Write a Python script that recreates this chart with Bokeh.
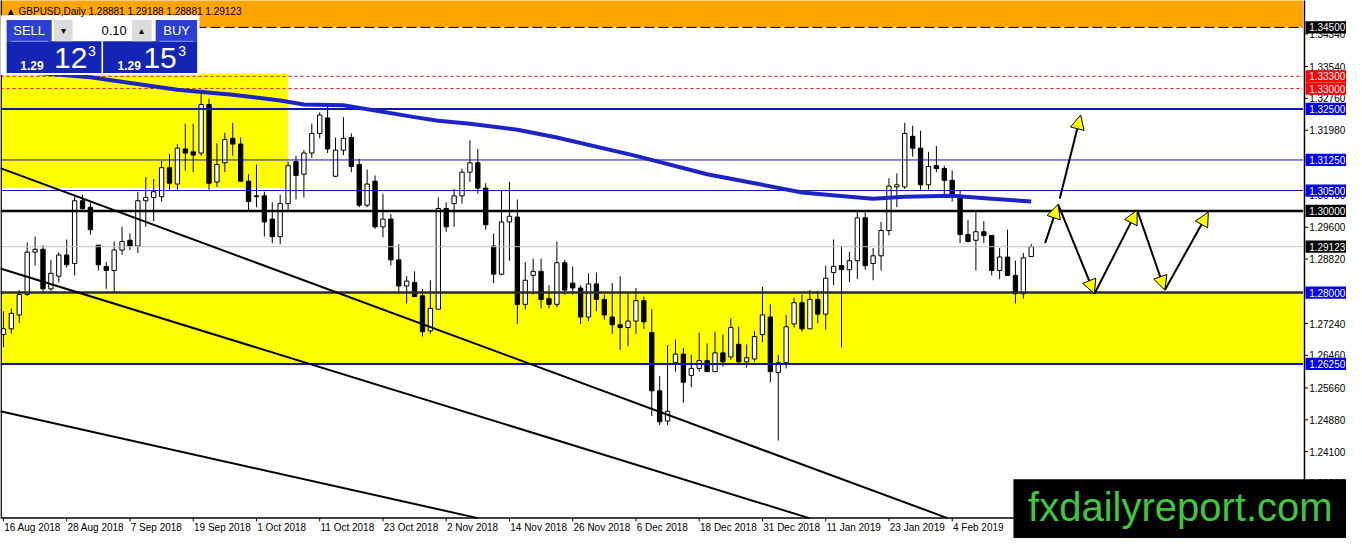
from bokeh.plotting import figure
from bokeh.models import ColumnDataSource, Range1d, Label, Arrow, NormalHead
from bokeh.core.properties import value
from bokeh.embed import file_html
from bokeh.resources import INLINE

# GBPUSD daily candles, bar 0 = 16 Aug 2018 (weekdays only)
OPEN = [1.2697, 1.2711, 1.2745, 1.2795, 1.2899, 1.2906, 1.2809, 1.2840, 1.2892, 1.2871,
        1.3025, 1.3009, 1.2916, 1.2864, 1.2854, 1.2904, 1.2928, 1.2914, 1.3025, 1.3033,
        1.3035, 1.3106, 1.3066, 1.3152, 1.3145, 1.3142, 1.3261, 1.3071, 1.3118, 1.3178,
        1.3164, 1.3073, 1.3037, 1.3037, 1.2980, 1.2937, 1.3018, 1.3121, 1.3090, 1.3142,
        1.3190, 1.3228, 1.3085, 1.3149, 1.3180, 1.3114, 1.3014, 1.3073, 1.2961, 1.2980,
        1.2880, 1.2816, 1.2825, 1.2792, 1.2706, 1.2759, 1.3006, 1.3018, 1.3037, 1.3095,
        1.3118, 1.3056, 1.2914, 1.2845, 1.2973, 1.2985, 1.2771, 1.2842, 1.2852, 1.2785,
        1.2771, 1.2873, 1.2823, 1.2811, 1.2740, 1.2821, 1.2783, 1.2740, 1.2721, 1.2714,
        1.2730, 1.2780, 1.2702, 1.2559, 1.2485, 1.2628, 1.2649, 1.2597, 1.2614, 1.2633,
        1.2606, 1.2652, 1.2642, 1.2673, 1.2630, 1.2637, 1.2697, 1.2740, 1.2604, 1.2628,
        1.2723, 1.2775, 1.2711, 1.2783, 1.2747, 1.2849, 1.2866, 1.2856, 1.2878, 1.2983,
        1.2871, 1.2890, 1.2952, 1.3059, 1.3059, 1.3183, 1.3154, 1.3064, 1.3111, 1.3104,
        1.3075, 1.3033, 1.2942, 1.2928, 1.2949, 1.2940, 1.2854, 1.2887, 1.2842, 1.2797,
        1.28881]
HIGH = [1.2754, 1.2761, 1.2806, 1.2923, 1.2937, 1.2916, 1.2880, 1.2899, 1.2930, 1.3035,
        1.3040, 1.3021, 1.2916, 1.2875, 1.2925, 1.2961, 1.2945, 1.3047, 1.3083, 1.3078,
        1.3123, 1.3140, 1.3164, 1.3214, 1.3214, 1.3295, 1.3275, 1.3166, 1.3192, 1.3216,
        1.3180, 1.3090, 1.3114, 1.3047, 1.3021, 1.3040, 1.3121, 1.3135, 1.3149, 1.3214,
        1.3242, 1.3256, 1.3180, 1.3230, 1.3190, 1.3128, 1.3102, 1.3087, 1.3042, 1.2992,
        1.2918, 1.2840, 1.2852, 1.2809, 1.2830, 1.3033, 1.3021, 1.3054, 1.3104, 1.3173,
        1.3152, 1.3068, 1.2945, 1.3049, 1.3071, 1.3028, 1.2875, 1.2883, 1.2883, 1.2818,
        1.2925, 1.2880, 1.2864, 1.2818, 1.2847, 1.2849, 1.2795, 1.2823, 1.2840, 1.2797,
        1.2811, 1.2790, 1.2759, 1.2595, 1.2671, 1.2685, 1.2664, 1.2647, 1.2702, 1.2675,
        1.2704, 1.2697, 1.2737, 1.2716, 1.2673, 1.2706, 1.2814, 1.2771, 1.2647, 1.2745,
        1.2787, 1.2795, 1.2806, 1.2804, 1.2866, 1.2930, 1.2914, 1.2899, 1.2999, 1.2997,
        1.2909, 1.2973, 1.3080, 1.3092, 1.3216, 1.3209, 1.3197, 1.3145, 1.3159, 1.3111,
        1.3099, 1.3049, 1.2978, 1.2997, 1.2975, 1.2940, 1.2909, 1.2954, 1.2878, 1.2897,
        1.29188]
LOW = [1.2666, 1.2699, 1.2725, 1.2792, 1.2866, 1.2802, 1.2802, 1.2825, 1.2861, 1.2842,
       1.2999, 1.2942, 1.2854, 1.2809, 1.2802, 1.2892, 1.2904, 1.2897, 1.2961, 1.2975,
       1.3023, 1.3052, 1.3052, 1.3099, 1.3095, 1.3135, 1.3052, 1.3059, 1.3095, 1.3135,
       1.3071, 1.2999, 1.3009, 1.2937, 1.2921, 1.2918, 1.3002, 1.3028, 1.3033, 1.3130,
       1.3178, 1.3142, 1.3083, 1.3137, 1.3095, 1.3009, 1.3009, 1.2956, 1.2935, 1.2866,
       1.2797, 1.2773, 1.2790, 1.2692, 1.2699, 1.2759, 1.2949, 1.2961, 1.3018, 1.3071,
       1.3042, 1.2954, 1.2823, 1.2842, 1.2878, 1.2723, 1.2759, 1.2795, 1.2761, 1.2761,
       1.2764, 1.2795, 1.2795, 1.2723, 1.2730, 1.2754, 1.2733, 1.2699, 1.2659, 1.2668,
       1.2699, 1.2711, 1.2497, 1.2475, 1.2475, 1.2606, 1.2530, 1.2568, 1.2606, 1.2606,
       1.2606, 1.2618, 1.2635, 1.2628, 1.2616, 1.2630, 1.2678, 1.2580, 1.2437, 1.2614,
       1.2714, 1.2704, 1.2711, 1.2725, 1.2709, 1.2818, 1.2666, 1.2825, 1.2833, 1.2856,
       1.2830, 1.2854, 1.2940, 1.3009, 1.3054, 1.3133, 1.3052, 1.3052, 1.3095, 1.3040,
       1.3023, 1.2921, 1.2923, 1.2854, 1.2921, 1.2842, 1.2833, 1.2842, 1.2773, 1.2785,
       1.28881]
CLOSE = [1.2711, 1.2749, 1.2795, 1.2899, 1.2906, 1.2809, 1.2847, 1.2892, 1.2868, 1.3025,
         1.3006, 1.2954, 1.2868, 1.2854, 1.2904, 1.2925, 1.2914, 1.3025, 1.3033, 1.3047,
         1.3106, 1.3068, 1.3154, 1.3142, 1.3137, 1.3261, 1.3068, 1.3114, 1.3175, 1.3164,
         1.3073, 1.3023, 1.3035, 1.2973, 1.2937, 1.3018, 1.3111, 1.3087, 1.3142, 1.3190,
         1.3235, 1.3152, 1.3149, 1.3178, 1.3109, 1.3014, 1.3066, 1.2961, 1.2980, 1.2880,
         1.2816, 1.2828, 1.2790, 1.2704, 1.2761, 1.3006, 1.2961, 1.3037, 1.3095, 1.3118,
         1.3056, 1.2966, 1.2845, 1.2973, 1.2987, 1.2771, 1.2830, 1.2852, 1.2783, 1.2771,
         1.2873, 1.2806, 1.2811, 1.2740, 1.2821, 1.2783, 1.2745, 1.2721, 1.2714, 1.2730,
         1.2780, 1.2728, 1.2559, 1.2483, 1.2509, 1.2649, 1.2580, 1.2614, 1.2633, 1.2606,
         1.2652, 1.2630, 1.2714, 1.2630, 1.2640, 1.2692, 1.2745, 1.2606, 1.2628, 1.2716,
         1.2775, 1.2711, 1.2783, 1.2747, 1.2835, 1.2864, 1.2856, 1.2878, 1.2983, 1.2866,
         1.2890, 1.2952, 1.3061, 1.3064, 1.3190, 1.3154, 1.3064, 1.3109, 1.3104, 1.3075,
         1.3037, 1.2942, 1.2925, 1.2949, 1.2940, 1.2854, 1.2887, 1.2842, 1.2797, 1.2885,
         1.29123]

# moving average read at some bars
MA_BAR = [0, 11, 22, 29, 35, 38, 43, 52, 55, 59, 65, 70, 80, 89, 95, 101, 107, 110, 114, 120, 125, 130]
MA_VAL = [1.3345, 1.3328, 1.3297, 1.3285, 1.3271, 1.3261, 1.3259, 1.3230, 1.3221, 1.3214, 1.3199,
          1.3180, 1.3135, 1.3090, 1.3068, 1.3045, 1.3035, 1.3030, 1.3035, 1.3037, 1.3030, 1.3023]

# date axis
DATE_BAR = [0, 8, 16, 24, 32, 40, 48, 56, 64, 72, 80, 88, 96, 104, 112, 120]
DATE_TEXT = ["16 Aug 2018", "28 Aug 2018", "7 Sep 2018", "19 Sep 2018", "1 Oct 2018",
             "11 Oct 2018", "23 Oct 2018", "2 Nov 2018", "14 Nov 2018", "26 Nov 2018",
             "6 Dec 2018", "18 Dec 2018", "31 Dec 2018", "11 Jan 2019", "23 Jan 2019", "4 Feb 2019"]

PRICE_TICKS = [1.3434, 1.3354, 1.3276, 1.3198, 1.3120, 1.3040, 1.2960, 1.2882, 1.2804,
               1.2724, 1.2646, 1.2566, 1.2488, 1.2410, 1.2332]

# horizontal levels drawn on the chart
LEVELS = [1.345, 1.333, 1.330, 1.325, 1.3125, 1.305, 1.300, 1.29123, 1.280, 1.2625]
LEVEL_TEXT = ["1.34500", "1.33300", "1.33000", "1.32500", "1.31250", "1.30500",
              "1.30000", "1.29123", "1.28000", "1.26250"]
LEVEL_COLOR = ["black", "#e00000", "#e00000", "#1018b0", "#1018a0", "#1018a0",
               "black", "#c0c0c0", "#2b2b2b", "#1018b0"]
LEVEL_WIDTH = [1, 1, 1, 2, 1, 1, 2.5, 1, 2.5, 2]
LEVEL_DASH = ["10 4", "3 3", "3 3", "solid", "solid", "solid", "solid", "solid", "solid", "solid"]
TAG_BG = ["black", "#ff0000", "#ff0000", "#0000f0", "#0000f0", "#0000f0",
          "black", "black", "#0000f0", "#0000f0"]

# zones (bars, price)
ZONE_TOP_BOX = (-1, 36.0, 1.3337, 1.3056)
SUPPORT_ZONE = (1.2800, 1.2625)
ORANGE_ZONE = (1.3450, 1.3600)

# trend lines (bar, price) pairs
TREND_LINES = [((-0.4, 1.3105), (119.4, 1.22469)),
               ((-0.4, 1.2859), (101.9, 1.22469)),
               ((-0.4, 1.2509), (60.0, 1.22469))]

# projected path arrows
ARROW_X0 = [131.75, 133.4, 138.0, 143.4, 146.9, 133.6]
ARROW_Y0 = [1.2921, 1.3016, 1.2797, 1.3002, 1.2806, 1.3030]
ARROW_X1 = [133.4, 138.0, 143.4, 146.9, 152.4, 136.25]
ARROW_Y1 = [1.3016, 1.2797, 1.3002, 1.2806, 1.2997, 1.3235]

FONT = "Liberation Sans"

# chart frame edges inside the canvas (bars / price)
LEFT = -0.375
PLOT_RIGHT = 164.375
AXIS_X = 164.56
PLOT_BOTTOM = 1.22469
TOP = 1.36

bars = list(range(len(OPEN)))
src = ColumnDataSource(dict(
    x=bars, open=OPEN, high=HIGH, low=LOW, close=CLOSE,
    top=[max(o, c) for o, c in zip(OPEN, CLOSE)],
    bottom=[min(o, c) for o, c in zip(OPEN, CLOSE)],
    fill=["white" if c >= o else "black" for o, c in zip(OPEN, CLOSE)],
))

p = figure(width=1346, height=538, x_range=Range1d(LEFT, 169.875),
           y_range=Range1d(1.21969, 1.351595), x_axis_location=None,
           y_axis_location=None, toolbar_location=None, output_backend="svg",
           min_border=0, min_border_left=0, min_border_right=0,
           min_border_top=0, min_border_bottom=0)
p.grid.visible = False
p.outline_line_color = None
p.background_fill_color = "white"
p.border_fill_color = "white"

# zones
p.quad(left=LEFT, right=PLOT_RIGHT, bottom=ORANGE_ZONE[0], top=ORANGE_ZONE[1],
       fill_color="#ffa500", line_color=None)
p.quad(left=LEFT, right=PLOT_RIGHT, top=SUPPORT_ZONE[0], bottom=SUPPORT_ZONE[1],
       fill_color="#ffff00", line_color=None)
p.quad(left=LEFT, right=ZONE_TOP_BOX[1], top=ZONE_TOP_BOX[2], bottom=ZONE_TOP_BOX[3],
       fill_color="#ffff00", line_color=None)

# candles
p.segment(x0="x", y0="low", x1="x", y1="high", line_color="black", line_width=1, source=src)
p.vbar(x="x", width=0.55, top="top", bottom="bottom", fill_color="fill",
       line_color="black", line_width=1, source=src)

# levels
for lv, col, w, d in zip(LEVELS, LEVEL_COLOR, LEVEL_WIDTH, LEVEL_DASH):
    p.line([LEFT, PLOT_RIGHT], [lv, lv], line_color=col, line_width=w, line_dash=d)

# trend lines
for (xa, ya), (xb, yb) in TREND_LINES:
    p.line([xa, xb], [ya, yb], line_color="black", line_width=2)

# moving average
p.line(MA_BAR, MA_VAL, line_color="#1c24c8", line_width=4)

# frame: left border, bottom axis, right axis
p.line([LEFT + 0.08, LEFT + 0.08], [PLOT_BOTTOM, TOP], line_color="black", line_width=1.5)
p.line([LEFT, AXIS_X], [PLOT_BOTTOM, PLOT_BOTTOM], line_color="black", line_width=1.5)
p.line([AXIS_X, AXIS_X], [PLOT_BOTTOM, TOP], line_color="black", line_width=1.5)

# price axis ticks and labels
p.segment(x0=[AXIS_X] * len(PRICE_TICKS), x1=[AXIS_X + 0.45] * len(PRICE_TICKS),
          y0=PRICE_TICKS, y1=PRICE_TICKS, line_color="black", line_width=1)
p.text(x=[165.15] * len(PRICE_TICKS), y=PRICE_TICKS, text=["%.5f" % t for t in PRICE_TICKS],
       text_font=value(FONT), text_font_size="10px", text_color="black",
       text_align="left", text_baseline="middle")

# date axis ticks and labels
p.segment(x0=DATE_BAR, x1=DATE_BAR, y0=[PLOT_BOTTOM] * len(DATE_BAR),
          y1=[PLOT_BOTTOM - 0.0008] * len(DATE_BAR), line_color="black", line_width=1)
p.text(x=[b + 0.1 for b in DATE_BAR], y=[1.2223] * len(DATE_BAR), text=DATE_TEXT,
       text_font=value(FONT), text_font_size="10px", text_color="black",
       text_align="left", text_baseline="middle")

# price tags on the right axis
p.quad(left=164.7, right=170, top=[lv + 0.0015 for lv in LEVELS],
       bottom=[lv - 0.0015 for lv in LEVELS], fill_color=TAG_BG, line_color=None)
p.text(x=[165.15] * len(LEVELS), y=LEVELS, text=LEVEL_TEXT,
       text_font=value(FONT), text_font_size="10px", text_color="white",
       text_align="left", text_baseline="middle")

# trading panel (top-left)
p.quad(left=LEFT, right=24.8, top=1.3480, bottom=1.3333, fill_color="white", line_color=None)
p.quad(left=[0.4, 19.25], right=[6.1, 24.5], top=1.3468, bottom=1.3416,
       fill_color="#2b3fd4", line_color=None)
p.quad(left=[0.4, 12.6], right=[12.4, 24.5], top=1.3416, bottom=1.3338,
       fill_color="#1424b6", line_color=None)
p.quad(left=[6.4, 16.25], right=[8.75, 18.75], top=1.3468, bottom=1.3416,
       fill_color="#dcdcdc", line_color=None)
p.line([1.0, 5.6], [1.3416, 1.3416], line_color="#8a96e8", line_width=1)
p.line([19.8, 24.0], [1.3416, 1.3416], line_color="#8a96e8", line_width=1)

# watermark
p.quad(left=127.75, right=170, top=1.2342, bottom=1.2150, fill_color="black", line_color=None)

panel_texts = [
    (3.25, 1.3442, "SELL", "13px", "white", "center", "normal"),
    (21.9, 1.3442, "BUY", "13px", "white", "center", "normal"),
    (7.56, 1.3442, "▾", "10px", "black", "center", "normal"),
    (17.5, 1.3442, "▴", "10px", "black", "center", "normal"),
    (15.6, 1.3442, "0.10", "13px", "black", "right", "normal"),
    (3.6, 1.33564, "1.29", "12px", "white", "center", "bold"),
    (15.9, 1.33564, "1.29", "12px", "white", "center", "bold"),
    (6.4, 1.33755, "12", "30px", "white", "left", "normal"),
    (17.7, 1.33755, "15", "30px", "white", "left", "normal"),
    (10.7, 1.33921, "3", "14px", "white", "left", "normal"),
    (22.1, 1.33921, "3", "14px", "white", "left", "normal"),
]
for x, y, t, fs, col, al, st in panel_texts:
    p.add_layout(Label(x=x, y=y, text=t, text_font=FONT, text_font_size=fs, text_color=col,
                       text_align=al, text_baseline="middle", text_font_style=st))

# header
p.add_layout(Label(x=0.3, y=1.34898, text="▲ GBPUSD,Daily  1.28881 1.29188 1.28881 1.29123",
                   text_font=FONT, text_font_size="10px", text_color="black",
                   text_baseline="middle"))

# arrows
for xa, ya, xb, yb in zip(ARROW_X0, ARROW_Y0, ARROW_X1, ARROW_Y1):
    p.add_layout(Arrow(x_start=xa, y_start=ya, x_end=xb, y_end=yb, line_color="black",
                       line_width=2,
                       end=NormalHead(size=14, fill_color="#ffff00", line_color="black", line_width=1)))

p.add_layout(Label(x=129.6, y=1.22731, text="fxdailyreport.com", text_font=FONT,
                   text_font_size="40px", text_color="#3ec83e", text_align="left",
                   text_baseline="middle"))

open("out.html", "w").write(file_html(p, INLINE))
